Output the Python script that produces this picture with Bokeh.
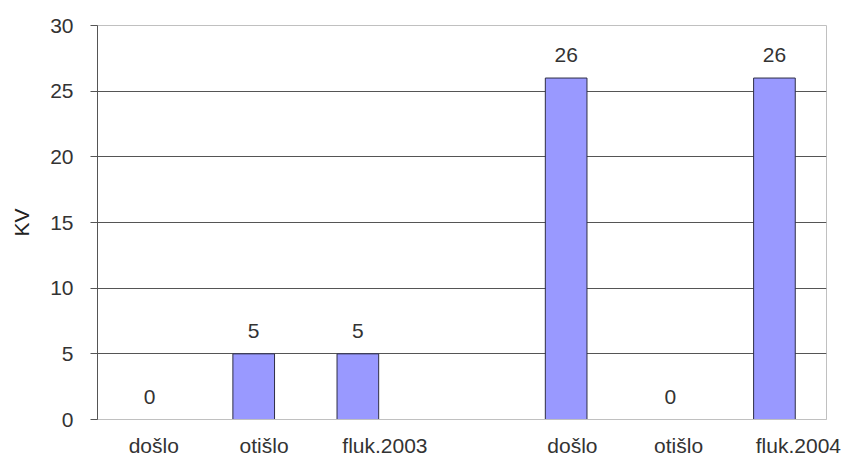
from bokeh.plotting import figure
from bokeh.models import ColumnDataSource, FixedTicker, Range1d, LabelSet
from bokeh.core.properties import value
from bokeh.embed import file_html
from bokeh.resources import INLINE

categories = ["došlo", "otišlo", "fluk.2003", "", "došlo", "otišlo", "fluk.2004"]
values = [0, 5, 5, None, 26, 0, 26]
y_ticks = [0, 5, 10, 15, 20, 25, 30]
y_label = "KV"

FONT = "Liberation Sans"
FS = "21px"
TXT = "#333333"
# horizontal placement of each category label inside its slot (slot units), as in the reference
LABEL_POS = [0.54, 0.60, 0.76, None, 0.56, 0.58, 0.73]

xs = [i + 0.5 for i in range(len(categories))]
bx = [x for x, v in zip(xs, values) if v is not None]
bv = [v for v in values if v is not None]
src = ColumnDataSource(dict(x=bx, top=bv, lab=[str(v) for v in bv]))

p = figure(width=845, height=459, output_backend="svg", toolbar_location=None,
           x_range=Range1d(0, len(categories)), y_range=Range1d(0, 30),
           min_border_left=97, min_border_right=19, min_border_top=25, min_border_bottom=39)
p.background_fill_color = "white"
p.border_fill_color = "white"
p.outline_line_color = "#c0c0c0"
p.outline_line_width = 1

p.vbar(x="x", top="top", bottom=0, width=0.4, source=src,
       fill_color="#9999FF", line_color="#2e2e45", line_width=1)

labels = LabelSet(x="x", y="top", text="lab", source=src, text_align="center",
                  text_baseline="middle", y_offset=23, text_font=value(FONT),
                  text_font_size=FS, text_color=TXT)
p.add_layout(labels)

p.xgrid.visible = False
p.ygrid.ticker = FixedTicker(ticks=[5, 10, 15, 20, 25])
p.ygrid.grid_line_color = "#555555"
p.ygrid.grid_line_width = 1

p.yaxis.ticker = FixedTicker(ticks=y_ticks)
p.yaxis.axis_label = y_label
p.yaxis.axis_label_text_font = FONT
p.yaxis.axis_label_text_font_size = FS
p.yaxis.axis_label_text_font_style = "normal"
p.yaxis.axis_label_text_color = "#222222"
p.yaxis.axis_label_standoff = 14
p.yaxis.major_label_text_font = FONT
p.yaxis.major_label_text_font_size = FS
p.yaxis.major_label_text_color = TXT
p.yaxis.major_label_standoff = 17
p.yaxis.axis_line_color = "#555555"
p.yaxis.major_tick_line_color = "#555555"
p.yaxis.major_tick_out = 7
p.yaxis.major_tick_in = 0
p.yaxis.minor_tick_line_color = None

x_label_pos = [i + f for i, (c, f) in enumerate(zip(categories, LABEL_POS)) if c]
p.xaxis.ticker = FixedTicker(ticks=x_label_pos)
p.xaxis.major_label_overrides = {x: c for x, c in zip(x_label_pos, [c for c in categories if c])}
p.xaxis.major_label_text_font = FONT
p.xaxis.major_label_text_font_size = FS
p.xaxis.major_label_text_color = TXT
p.xaxis.major_label_text_line_height = 1.0
p.xaxis.major_label_standoff = 14
p.xaxis.major_tick_out = 0
p.xaxis.major_tick_in = 0
p.xaxis.axis_line_color = "#c0c0c0"
p.xaxis.major_tick_line_color = None
p.xaxis.minor_tick_line_color = None

open("out.html", "w").write(file_html(p, INLINE))
